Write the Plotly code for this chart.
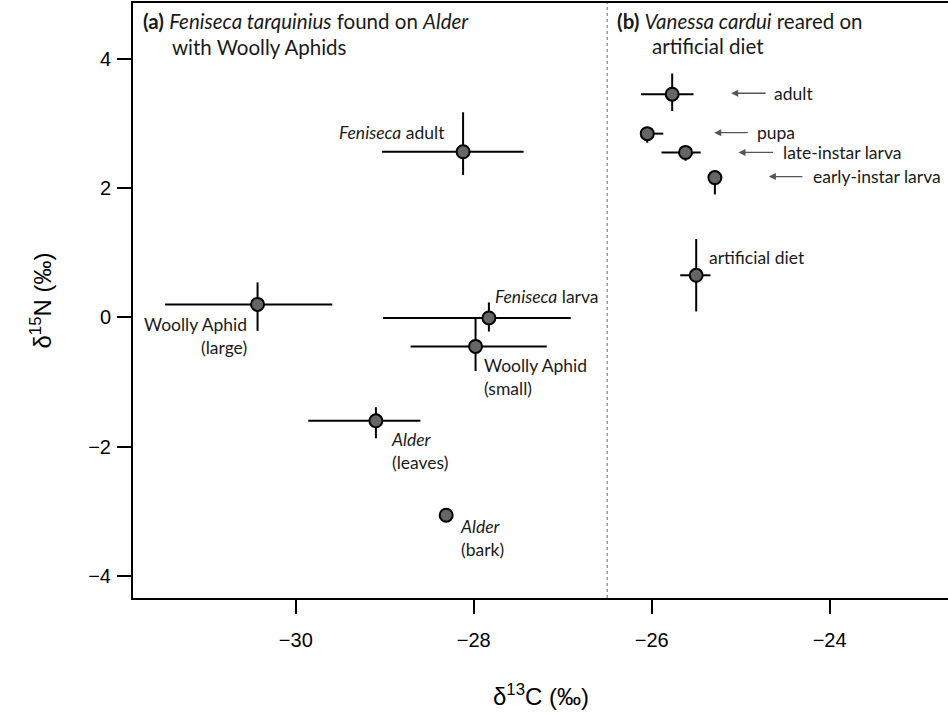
import plotly.graph_objects as go

# Stable isotope values (per mil): point estimates and error-bar extents
labels = ["Feniseca adult", "Woolly Aphid (large)", "Feniseca larva", "Woolly Aphid (small)",
          "Alder (leaves)", "Alder (bark)",
          "V. cardui adult", "V. cardui pupa", "V. cardui late-instar larva",
          "V. cardui early-instar larva", "artificial diet"]
d13C = [-28.12, -30.43, -27.83, -27.98, -29.10, -28.31,
        -25.77, -26.05, -25.62, -25.29, -25.50]
d15N = [2.56, 0.20, -0.01, -0.45, -1.60, -3.06,
        3.45, 2.84, 2.55, 2.16, 0.65]
d13C_lo = [-29.03, -31.47, -29.02, -28.71, -29.86, -28.33,
           -26.12, -26.10, -25.89, -25.32, -25.68]
d13C_hi = [-27.44, -29.59, -26.91, -27.18, -28.60, -28.29,
           -25.53, -25.87, -25.45, -25.27, -25.34]
d15N_lo = [2.20, -0.21, -0.22, -0.83, -1.87, -3.09,
           3.19, 2.70, 2.42, 1.90, 0.09]
d15N_hi = [3.17, 0.54, 0.23, -0.02, -1.39, -3.03,
           3.77, 2.90, 2.62, 2.22, 1.21]

x_ticks = [-30, -28, -26, -24]
y_ticks = [-4, -2, 0, 2, 4]
panel_split = -26.5

TXT = "Lato, 'Open Sans', sans-serif"
AX = "'Liberation Sans', Arial, Helvetica, sans-serif"

fig = go.Figure()
fig.add_trace(go.Scatter(
    x=d13C, y=d15N, mode="markers", text=labels, hoverinfo="text",
    marker=dict(size=13, color="#666666", line=dict(color="black", width=2)),
    error_x=dict(type="data", symmetric=False,
                 array=[h - v for h, v in zip(d13C_hi, d13C)],
                 arrayminus=[v - l for l, v in zip(d13C_lo, d13C)],
                 color="black", thickness=2, width=0),
    error_y=dict(type="data", symmetric=False,
                 array=[h - v for h, v in zip(d15N_hi, d15N)],
                 arrayminus=[v - l for l, v in zip(d15N_lo, d15N)],
                 color="black", thickness=2, width=0),
    showlegend=False,
))

# dotted divider between the two panels
fig.add_shape(type="line", x0=panel_split, x1=panel_split, xref="x",
              y0=0, y1=1, yref="paper",
              line=dict(color="#8c8c8c", width=1.3, dash="dot"))

# point labels: (index, text, xanchor, align, xshift, yshift)
point_labels = [
    (0, "<i>Feniseca</i> adult", "right", "right", -16, 19),
    (1, "Woolly Aphid<br>(large)", "right", "right", -9, -32),
    (2, "<i>Feniseca</i> larva", "left", "left", 4, 21),
    (3, "Woolly Aphid<br>(small)", "left", "left", 6, -31),
    (4, "<i>Alder</i><br>(leaves)", "left", "left", 13, -30),
    (5, "<i>Alder</i><br>(bark)", "left", "left", 12, -23),
    (6, "adult", "left", "left", 100, 1),
    (7, "pupa", "left", "left", 108, 1),
    (8, "late-instar larva", "left", "left", 95, 0),
    (9, "early-instar larva", "left", "left", 96, 1),
    (10, "artificial diet", "left", "left", 11, 18),
]
for i, txt, xa, al, xs, ys in point_labels:
    fig.add_annotation(x=d13C[i], y=d15N[i], text=txt, showarrow=False,
                       xanchor=xa, yanchor="middle", align=al,
                       xshift=xs, yshift=ys,
                       font=dict(family=TXT, size=17.5, color="#1a1a1a"))

# pointer arrows in panel (b): (index, head xshift, tail length, yshift)
arrows = [(6, 59, 36, 1), (7, 67, 35, 1), (8, 53, 36, 0), (9, 54, 35, 1)]
for i, xs, length, ys in arrows:
    fig.add_annotation(x=d13C[i], y=d15N[i], text="", showarrow=True,
                       xshift=xs, yshift=ys, ax=length, ay=0,
                       arrowhead=2, arrowsize=1, arrowwidth=1.4,
                       arrowcolor="#555555")

# panel headings
headings = [
    ("<b>(a)</b> <i>Feniseca tarquinius</i> found on <i>Alder</i>", 8, -18),
    ("with Woolly Aphids", 37, -44),
    ("<b>(b)</b> <i>Vanessa cardui</i> reared on", 482, -18),
    ("artificial diet", 517, -43),
]
for txt, xs, ys in headings:
    fig.add_annotation(x=0, y=1, xref="paper", yref="paper", text=txt,
                       showarrow=False, xanchor="left", yanchor="middle",
                       xshift=xs, yshift=ys,
                       font=dict(family=TXT, size=20.5, color="#1a1a1a"))

# axis titles
fig.add_annotation(x=0.5, y=0, xref="paper", yref="paper",
                   text="δ<sup>13</sup>C (‰)", showarrow=False,
                   xanchor="center", yanchor="middle", yshift=-97,
                   font=dict(family=AX, size=24, color="black"))
fig.add_annotation(x=0, y=0.5, xref="paper", yref="paper",
                   text="δ<sup>15</sup>N (‰)", showarrow=False, textangle=-90,
                   xanchor="center", yanchor="middle", xshift=-93,
                   font=dict(family=AX, size=24, color="black"))

fig.update_xaxes(range=[-31.83, -22.67], tickvals=x_ticks,
                 ticktext=["\u2212" + str(abs(v)) for v in x_ticks],
                 showgrid=False, zeroline=False, showline=True, mirror=True,
                 linecolor="black", linewidth=2, ticks="outside", ticklen=14,
                 tickwidth=1.5, tickcolor="black", ticklabelstandoff=9,
                 tickfont=dict(family=AX, size=20, color="black"))
fig.update_yaxes(range=[-4.34, 4.86], tickvals=y_ticks,
                 ticktext=[("\u2212" + str(abs(v))) if v < 0 else str(v) for v in y_ticks],
                 showgrid=False, zeroline=False, showline=True, mirror=False,
                 linecolor="black", linewidth=2, ticks="outside", ticklen=14,
                 tickwidth=1.5, tickcolor="black", ticklabelstandoff=2,
                 tickfont=dict(family=AX, size=20, color="black"))

fig.update_layout(width=948, height=721,
                  margin=dict(l=133, r=0, t=3, b=123),
                  paper_bgcolor="white", plot_bgcolor="white")

fig.write_html("out.html")
